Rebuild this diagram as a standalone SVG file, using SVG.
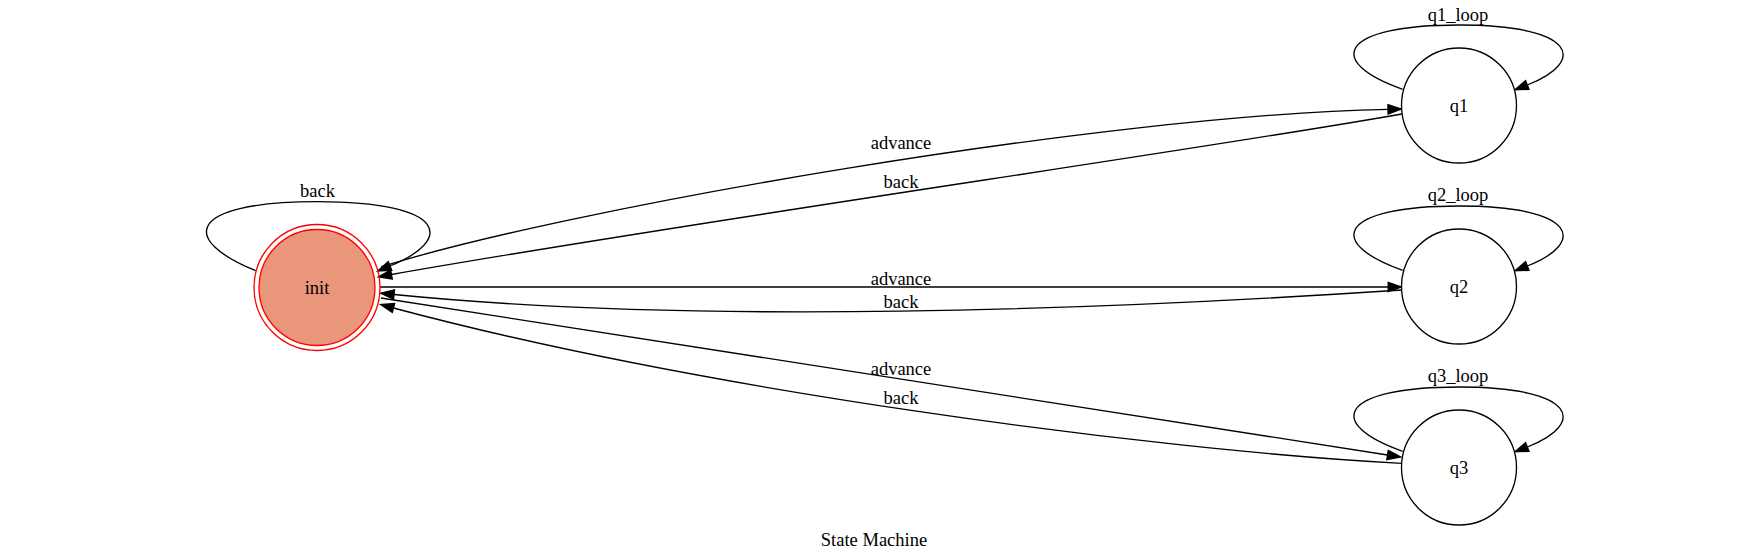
<svg xmlns="http://www.w3.org/2000/svg" width="1750" height="560" viewBox="0 0 1750 560">
<style>
text{font-family:"Liberation Serif","Times New Roman",serif;font-size:18.5px;text-anchor:middle;fill:#000}
.edge{fill:none;stroke:#000;stroke-width:1.33}
.state{fill:#fff;stroke:#000;stroke-width:1.33}
</style>
<defs>
<marker id="arr" markerUnits="userSpaceOnUse" markerWidth="16" markerHeight="12" viewBox="-1 -1 16 12" refX="0" refY="5" orient="auto" overflow="visible">
<path d="M0,0.35 L13.3,5 L0,9.65 Z" fill="#000" stroke="#000" stroke-width="1.33"/>
</marker>
<path id="qloop" d="M-56.3,-16.2 C-135,-44 -120,-80.5 0,-80.5 C118,-80.5 128,-44 68.3,-20.5"/>
</defs>
<rect width="1750" height="560" fill="#fff"/>
<g id="edges">
<path class="edge" d="M255.7,270.7 C180,240 185,202 317,201.7 C449,202 454,240 390,266" marker-end="url(#arr)"/>
<text x="317.5" y="197">back</text>
<path class="edge" d="M381,267 C560,210 1100,115 1388,109.3" marker-end="url(#arr)"/>
<text x="901" y="149.3">advance</text>
<path class="edge" d="M1401.7,114 C1200,150 700,220 391.5,274.5" marker-end="url(#arr)"/>
<text x="901" y="188.3">back</text>
<path class="edge" d="M380,287 L1388.2,287" marker-end="url(#arr)"/>
<text x="901" y="285">advance</text>
<path class="edge" d="M1401.7,290 C1100,310 700,325 394,294.5" marker-end="url(#arr)"/>
<text x="901" y="308.3">back</text>
<path class="edge" d="M381,298 L1387.5,455" marker-end="url(#arr)"/>
<text x="901" y="375">advance</text>
<path class="edge" d="M1401.7,463.3 C1150,450 700,390 393.5,308" marker-end="url(#arr)"/>
<text x="901" y="404.3">back</text>
<use href="#qloop" class="edge" transform="translate(1459,105.5)" marker-end="url(#arr)"/>
<text x="1458" y="20.7">q1_loop</text>
<use href="#qloop" class="edge" transform="translate(1459,286.5)" marker-end="url(#arr)"/>
<text x="1458" y="201">q2_loop</text>
<use href="#qloop" class="edge" transform="translate(1459,467.5)" marker-end="url(#arr)"/>
<text x="1458" y="382">q3_loop</text>
</g>
<g id="init">
<circle cx="317" cy="287.5" r="63" fill="none" stroke="#ff0000" stroke-width="1.33"/>
<circle cx="317" cy="287.5" r="58" fill="#e9967a" stroke="#ff0000" stroke-width="1.33"/>
<text x="317" y="294">init</text>
</g>
<g id="q1">
<circle class="state" cx="1459" cy="105.5" r="57.5"/>
<text x="1459" y="112">q1</text>
</g>
<g id="q2">
<circle class="state" cx="1459" cy="286.5" r="57.5"/>
<text x="1459" y="293">q2</text>
</g>
<g id="q3">
<circle class="state" cx="1459" cy="467.5" r="57.5"/>
<text x="1459" y="474">q3</text>
</g>
<g id="title">
<text x="874" y="546">State Machine</text>
</g>
</svg>
